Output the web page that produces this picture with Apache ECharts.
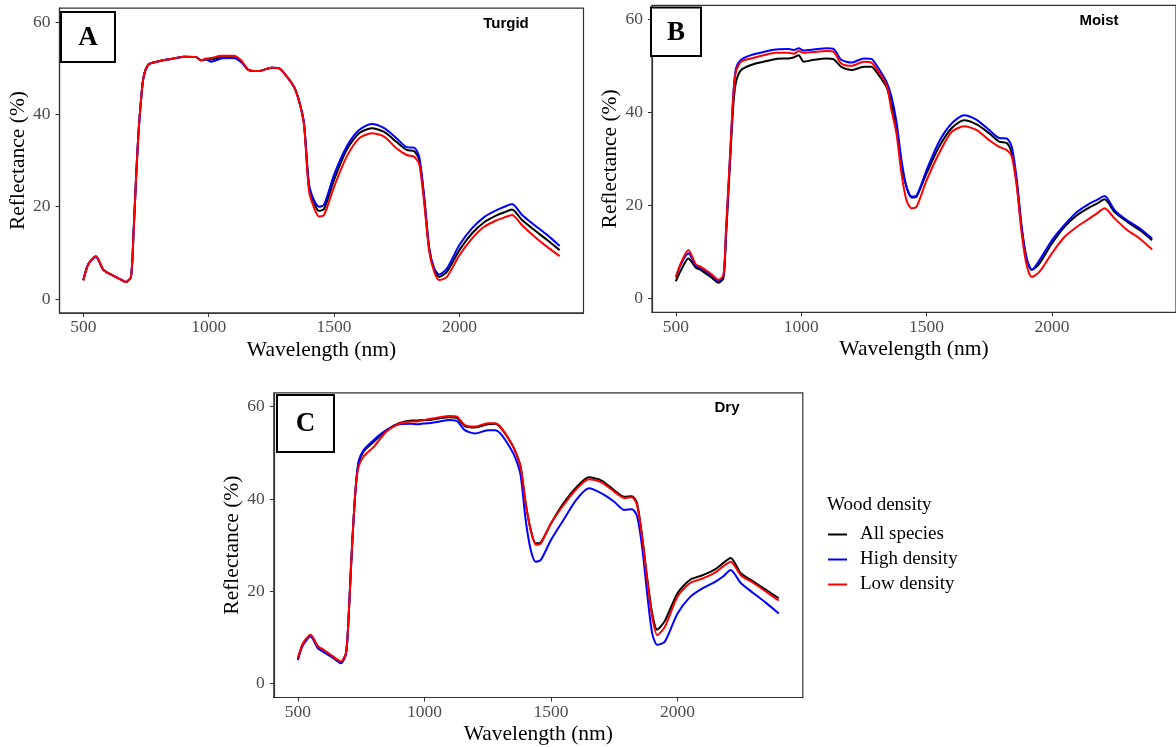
<!DOCTYPE html>
<html>
<head>
<meta charset="utf-8">
<script src="https://cdn.jsdelivr.net/npm/echarts@6/dist/echarts.min.js"></script>
<style>html,body{margin:0;padding:0;background:#fff;}#chart{width:1176px;height:747px;}</style>
</head>
<body>
<div id="chart"></div>
<script>
// Wavelength (nm)
var wavelengths = [500,520,550,580,600,640,670,690,700,710,720,730,740,760,800,850,900,950,970,990,1010,1050,1100,1130,1160,1200,1250,1280,1300,1340,1360,1380,1400,1420,1440,1460,1500,1550,1600,1650,1700,1750,1790,1820,1840,1860,1880,1900,1920,1950,2000,2050,2100,2150,2180,2210,2250,2300,2350,2400];

// Panel A - Turgid
var turgidAll  = [4.1,7.6,9.2,6.3,5.6,4.5,3.7,4.8,14,25.8,36,43,48,50.8,51.5,52,52.5,52.4,51.7,52.0,51.9,52.4,52.4,51.5,49.6,49.4,50.1,50.0,49.0,46.0,43.0,38.0,24.3,20.8,19.1,19.5,25.8,32.3,35.9,37.0,36.2,34.0,32.3,32.0,30.1,21.4,10.6,6.3,4.8,5.9,10.6,14.2,16.7,18.2,18.8,19.4,17.1,14.9,12.8,10.6];
var turgidHigh = [4.1,7.6,9.1,6.3,5.6,4.5,3.7,4.8,14,25.8,36,43,48,50.8,51.5,52,52.5,52.4,51.7,51.9,51.4,52.1,52.2,51.3,49.6,49.4,50.1,50.0,49.0,46.0,43.0,38.2,25.0,21.4,20.0,20.4,26.9,33.0,36.6,37.9,37.0,34.8,32.9,32.8,30.7,22.0,11.0,6.6,5.3,6.6,11.7,15.3,17.8,19.3,20.0,20.6,18.2,16.0,13.9,11.5];
var turgidLow  = [4.0,7.5,9.3,6.3,5.6,4.5,3.7,4.8,14,25.8,36,43,48,50.8,51.5,52,52.5,52.4,51.7,52.1,52.2,52.7,52.7,51.7,49.6,49.4,50.1,50.0,49.0,46.0,43.0,37.8,23.5,19.8,17.9,18.2,24.3,30.8,34.8,35.9,35.2,32.6,31.2,30.8,29.2,20.6,10.2,5.8,4.1,4.8,9.5,13.1,15.7,17.1,17.7,18.2,16.0,13.5,11.3,9.3];

// Panel B - Moist
var moistAll  = [3.7,6.0,8.6,6.6,6.1,4.6,3.4,4.4,13,23,33,42,46.5,49.1,50.2,50.9,51.5,51.6,51.8,52.3,50.9,51.3,51.6,51.4,49.8,49.1,49.8,49.8,48.7,45.5,41.9,36.9,28.3,24.0,21.7,21.9,26.9,32.6,36.6,38.3,37.4,35.5,33.7,33.4,31.2,24.7,14.7,8.2,6.1,7.5,11.8,15.4,17.9,19.6,20.4,21.3,18.6,16.5,14.7,12.5];
var moistHigh = [4.5,7.3,9.7,7.0,6.5,5.0,3.8,4.9,14,24,34.5,44.5,49.5,51.3,52.3,53.0,53.5,53.6,53.4,53.8,53.3,53.5,53.8,53.6,51.3,50.7,51.6,51.5,50.2,46.6,43.4,38.0,29.8,24.0,21.9,22.1,27.6,33.7,37.6,39.4,38.4,36.2,34.5,34.4,32.6,25.5,15.2,8.5,6.2,8.2,12.5,15.8,18.6,20.4,21.2,22.0,19.0,16.8,15.1,12.9];
var moistLow  = [4.6,7.6,10.4,7.3,6.8,5.3,4.0,5.0,14.5,24.5,34.5,44,48.8,50.9,51.6,52.3,52.8,52.8,52.6,53.2,52.8,53.0,53.2,53.0,50.5,50.0,50.9,50.7,49.4,45.9,40.5,35.5,26.9,21.1,19.4,19.7,25.4,31.2,35.8,37.0,36.2,34.0,32.6,31.9,30.5,24.0,13.8,7.0,4.6,5.7,9.7,13.2,15.4,17.2,18.3,19.4,17.2,14.7,12.9,10.5];

// Panel C - Dry
var dryAll  = [5.4,8.6,10.5,8.0,7.3,5.8,4.7,6.6,13.8,25.3,35.5,43.4,47.7,50.3,52.4,54.9,56.4,57.0,57.0,57.1,57.1,57.4,57.7,57.5,55.8,55.5,56.2,56.3,55.5,52.4,50.2,47.0,39.1,33.3,30.4,30.6,34.7,39.1,42.5,44.7,44.0,41.9,40.5,40.6,39.1,32.0,23.0,15.2,11.7,13.6,19.6,22.5,23.5,24.8,26.1,27.2,23.9,22.1,20.3,18.5];
var dryHigh = [5.1,8.3,10.2,7.6,6.9,5.5,4.4,6.3,13.8,25.3,35.5,43.4,48.2,50.6,52.8,54.9,56.2,56.3,56.2,56.3,56.4,56.7,57.1,56.8,54.9,54.2,54.9,54.9,54.2,51.0,48.8,45.2,35.5,29.0,26.4,26.8,31.1,35.5,39.8,42.3,41.2,39.4,37.6,37.8,36.3,29.7,19.6,10.9,8.4,9.1,15.2,18.8,20.7,22.1,23.2,24.6,21.8,19.6,17.5,15.2];
var dryLow  = [5.5,8.7,10.6,8.0,7.4,5.8,4.8,6.6,13.8,25.3,35.5,43.4,47.0,49.2,51.3,54.6,56.3,56.8,56.8,57.0,57.2,57.6,58.0,57.8,56.0,55.7,56.4,56.4,55.7,52.4,50.2,47.0,39.1,33.3,30.1,30.4,34.7,38.7,42.1,44.3,43.6,41.6,40.2,40.4,38.7,31.8,22.5,14.5,10.5,12.3,18.9,21.8,22.8,24.1,25.4,26.4,23.5,21.8,19.9,18.0];

var xTicks = [500,1000,1500,2000];
var yTicks = [0,20,40,60];
var seriesNames = ['All species','High density','Low density'];
var seriesColors = ['#000000','#0000FF','#FF0000'];
var panelLetters = ['A','B','C'];
var panelConditions = ['Turgid','Moist','Dry'];
var legendTitle = 'Wood density';
var xTitle = 'Wavelength (nm)';
var yTitle = 'Reflectance (%)';

var panels = [
  [turgidAll, turgidHigh, turgidLow],
  [moistAll, moistHigh, moistLow],
  [dryAll, dryHigh, dryLow]
];

var grids = [
  {left: 59.5, top: 8.2, width: 524, height: 304.7},
  {left: 652, top: 5.4, width: 527, height: 307},
  {left: 273.8, top: 392.8, width: 529, height: 304.7}
];

var serif = '"Liberation Serif", "Times New Roman", serif';
var sans = '"Liberation Sans", Arial, sans-serif';

function pairs(vals) {
  return wavelengths.map(function (w, i) { return [w, vals[i]]; });
}
function plain(v) { return String(v); }

var xAxes = [], yAxes = [], series = [];
grids.forEach(function (g, gi) {
  xAxes.push({
    type: 'value', gridIndex: gi, min: 405, max: 2495,
    name: xTitle, nameLocation: 'middle', nameGap: 26,
    nameTextStyle: {fontFamily: serif, fontSize: 21.5, color: '#000'},
    axisLine: {show: true, onZero: false, lineStyle: {color: '#333', width: 1.2}},
    axisTick: {show: true, length: 4, customValues: xTicks, lineStyle: {color: '#333'}},
    axisLabel: {customValues: xTicks, formatter: plain, fontFamily: serif, fontSize: 17.5, color: '#4D4D4D', margin: 6},
    splitLine: {show: false}
  });
  yAxes.push({
    type: 'value', gridIndex: gi, min: -3, max: 63,
    name: yTitle, nameLocation: 'middle', nameGap: 26, nameRotate: 90,
    nameTextStyle: {fontFamily: serif, fontSize: 21.5, color: '#000'},
    axisLine: {show: true, onZero: false, lineStyle: {color: '#333', width: 1.2}},
    axisTick: {show: true, length: 4, customValues: yTicks, lineStyle: {color: '#333'}},
    axisLabel: {customValues: yTicks, formatter: plain, fontFamily: serif, fontSize: 17.5, color: '#4D4D4D', margin: 9},
    splitLine: {show: false}
  });
  panels[gi].forEach(function (vals, si) {
    series.push({
      type: 'line', name: seriesNames[si], xAxisIndex: gi, yAxisIndex: gi,
      data: pairs(vals), showSymbol: false, symbol: 'none', smooth: 0.25,
      lineStyle: {color: seriesColors[si], width: 2},
      itemStyle: {color: seriesColors[si]},
      z: 2 + si, animation: false
    });
  });
});

var letterBoxes = [
  {x: 61, y: 12, w: 54, h: 50},
  {x: 651, y: 7.5, w: 50, h: 48.5},
  {x: 277, y: 395, w: 57, h: 57}
];
var condPos = [[506, 24], [1099, 21], [727, 408]];

var graphics = [];
letterBoxes.forEach(function (b, i) {
  graphics.push({
    type: 'rect', shape: {x: b.x, y: b.y, width: b.w, height: b.h},
    style: {fill: '#fff', stroke: '#000', lineWidth: 2}, z: 100
  });
  graphics.push({
    type: 'text', x: b.x + b.w / 2, y: b.y + b.h / 2 + 1, z: 101,
    style: {text: panelLetters[i], fontFamily: serif, fontWeight: 'bold', fontSize: 27,
            fill: '#000', align: 'center', verticalAlign: 'middle'}
  });
  graphics.push({
    type: 'text', x: condPos[i][0], y: condPos[i][1], z: 101,
    style: {text: panelConditions[i], fontFamily: sans, fontWeight: 'bold', fontSize: 15,
            fill: '#000', align: 'center', verticalAlign: 'middle'}
  });
});
graphics.push({
  type: 'text', x: 827, y: 505, z: 101,
  style: {text: legendTitle, fontFamily: serif, fontSize: 19, fill: '#000', align: 'left', verticalAlign: 'middle'}
});

var chart = echarts.init(document.getElementById('chart'), null, {renderer: 'canvas'});
chart.setOption({
  backgroundColor: '#fff',
  animation: false,
  grid: grids.map(function (g) {
    return {left: g.left, top: g.top, width: g.width, height: g.height, show: true,
            borderColor: '#333', borderWidth: 1.2, backgroundColor: 'transparent', containLabel: false};
  }),
  xAxis: xAxes,
  yAxis: yAxes,
  series: series,
  legend: {
    data: seriesNames, orient: 'vertical', left: 828, top: 525, padding: 0,
    itemWidth: 19, itemHeight: 14, itemGap: 6, icon: 'path://M0,6 L19,6 L19,8 L0,8 Z',
    textStyle: {fontFamily: serif, fontSize: 19, color: '#000', padding: [0, 0, 0, 8]},
    selectedMode: false
  },
  graphic: graphics
});
</script>
</body>
</html>
